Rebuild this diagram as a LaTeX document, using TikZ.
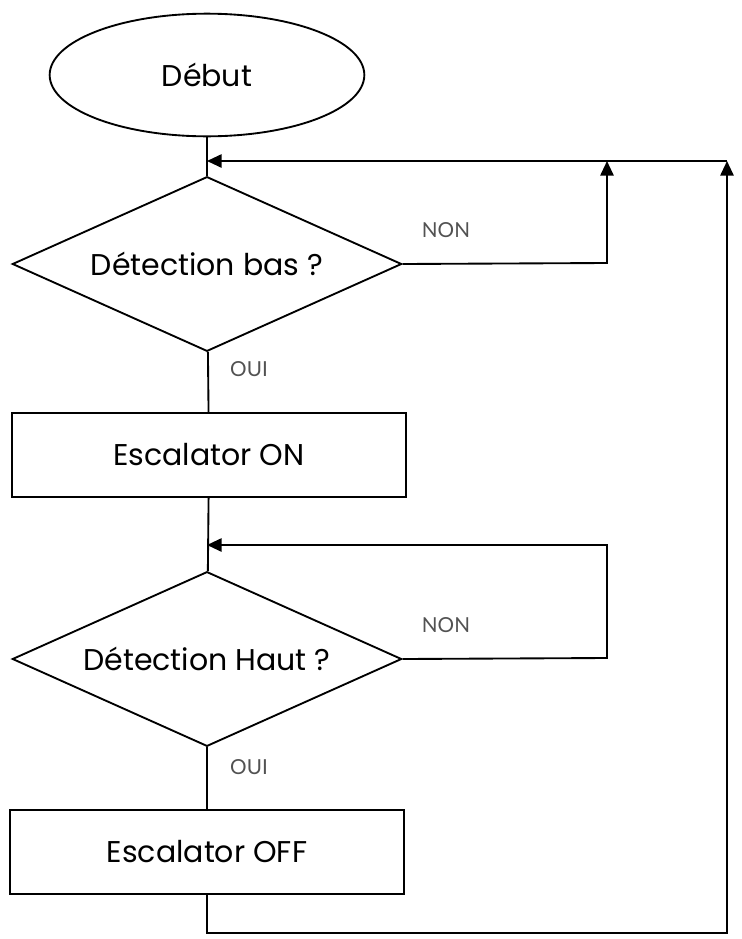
\documentclass[tikz,border=0pt]{standalone}
\usepackage{fontspec}
\setmainfont{Poppins}
\newfontfamily\labelfont{Lato}
\usetikzlibrary{shapes.geometric,arrows.meta}

\begin{document}
\begin{tikzpicture}[
            x=0.75pt, y=-0.75pt,
            start/.style={ellipse, draw, line width=1.4pt, minimum width=236pt, minimum height=92pt, inner sep=0pt, font=\fontsize{22.5}{26}\selectfont},
            test/.style={diamond, draw, line width=1.4pt, aspect=2.23, minimum width=292pt, minimum height=131pt, inner sep=0pt, font=\fontsize{22.5}{26}\selectfont},
            action/.style={rectangle, draw, line width=1.4pt, minimum width=295pt, minimum height=63pt, inner sep=0pt, font=\fontsize{22.5}{26}\selectfont},
            answer/.style={font=\labelfont\fontsize{15.5}{18}\selectfont, text=black!68},
            line/.style={draw, line width=1.4pt},
            arrow/.style={draw, line width=1.4pt, -{Triangle[length=11pt,width=10pt]}}
        ]
        \useasboundingbox (0,0) rectangle (742,939);

        % Start
        \node[start] (debut) at (207,75) {Début};

        % First test
        \node[test] (bas) at (207,264) {Détection bas ?};
        \node[answer] (non_bas) at (446,230) {NON};
        \node[answer] (oui_bas) at (249,369) {OUI};

        \node[action] (on) at (209,455) {Escalator ON};

        % Second test
        \node[test] (haut) at (207,659) {Détection Haut ?};
        \node[answer] (non_haut) at (446,625) {NON};
        \node[answer] (oui_haut) at (249,767) {OUI};

        \node[action] (off) at (207,852) {Escalator OFF};

        % Junctions and corners
        \coordinate (join_bas) at (207,161);
        \coordinate (join_haut) at (207,545);
        \coordinate (bas_corner) at (607,263);
        \coordinate (bas_top) at (607,161);
        \coordinate (haut_corner) at (607,658);
        \coordinate (haut_top) at (607,545);
        \coordinate (off_corner) at (207,933);
        \coordinate (back_corner) at (727,933);
        \coordinate (back_top) at (727,161);

        \draw[line] (debut) -- (bas);
        \draw[line] (bas) -- (on);
        \draw[line] (on) -- (haut);
        \draw[line] (haut) -- (off);

        \draw[arrow] (bas.east) -- (bas_corner) -- (bas_top);
        \draw[arrow] (back_top) -- (join_bas);

        \draw[arrow] (haut.east) -- (haut_corner) -- (haut_top) -- (join_haut);

        \draw[arrow] (off) -- (off_corner) -- (back_corner) -- (back_top);

    \end{tikzpicture}
\end{document}
